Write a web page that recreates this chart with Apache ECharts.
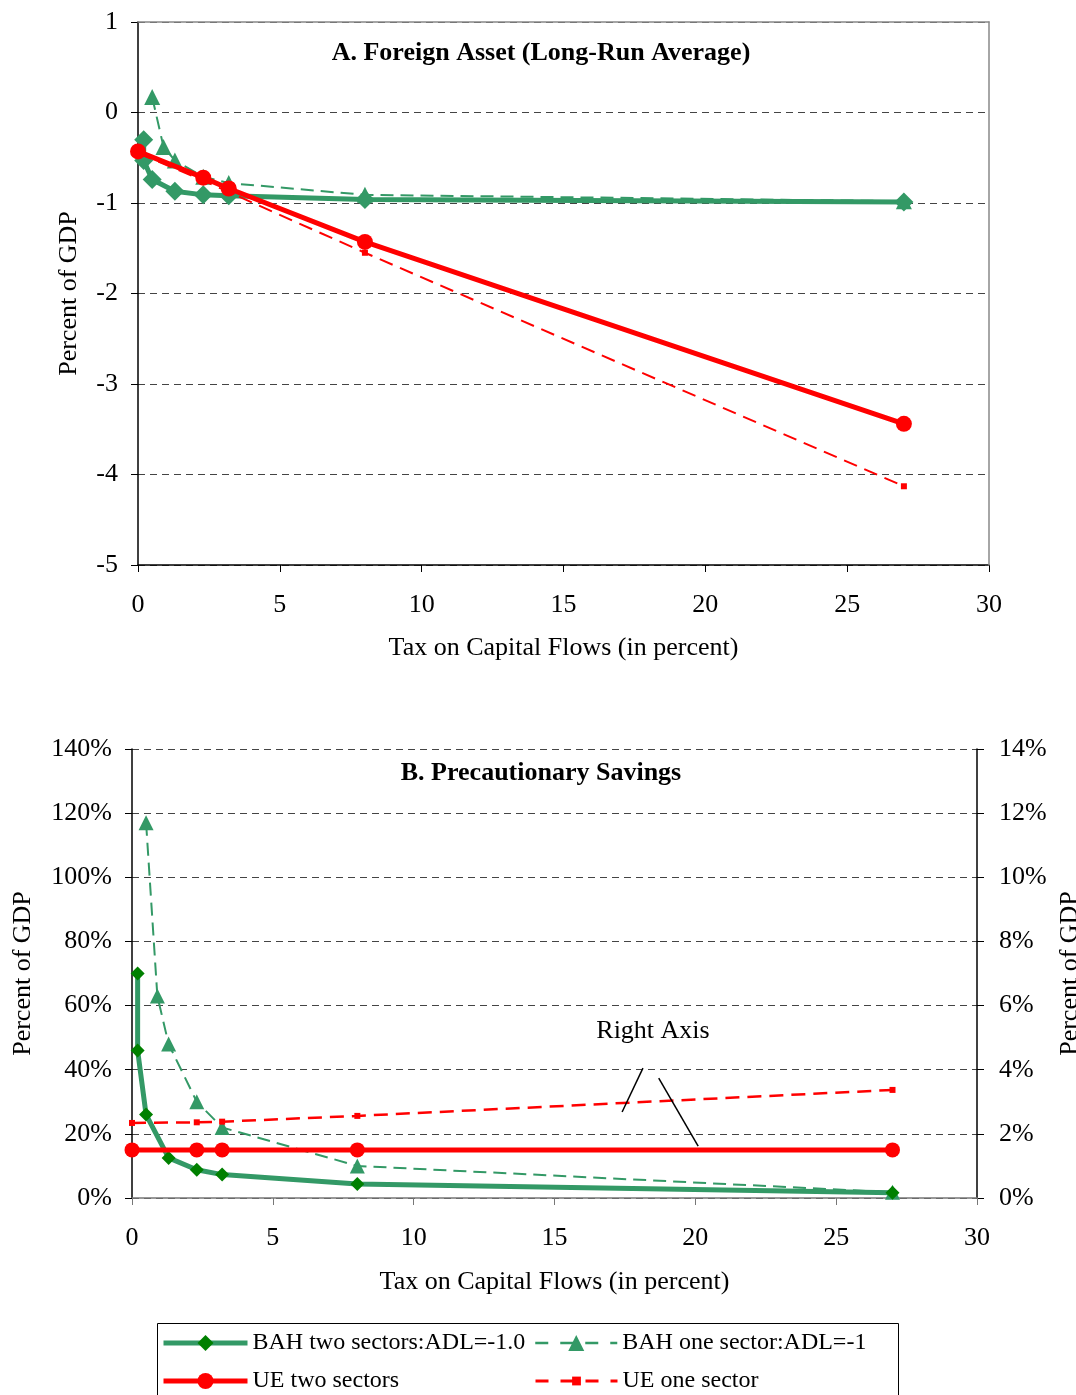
<!DOCTYPE html>
<html>
<head>
<meta charset="utf-8">
<script src="https://cdn.jsdelivr.net/npm/echarts@6/dist/echarts.min.js"></script>
<style>
  html, body { margin: 0; padding: 0; background: #fff; }
  #chart { width: 1076px; height: 1395px; }
</style>
</head>
<body>
<div id="chart"></div>
<script>
// Tax on capital flows (percent) at which each model was solved
const taxBahTwo = [0.2, 0.2, 0.5, 1.3, 2.3, 3.2, 8, 27];
const taxBahOne = [0.5, 0.9, 1.3, 2.3, 3.2, 8, 27];
const taxUE = [0, 2.3, 3.2, 8, 27];

// Panel A: foreign asset, long-run average (percent of GDP)
const faBahTwo = [-0.30, -0.53, -0.74, -0.87, -0.91, -0.92, -0.96, -0.99];
const faBahOne = [0.17, -0.38, -0.53, -0.71, -0.78, -0.91, -0.98];
const faUeTwo = [-0.43, -0.72, -0.84, -1.43, -3.44];
const faUeOne = [-0.45, -0.75, -0.88, -1.55, -4.13];

// Panel B: precautionary savings (percent of GDP); UE series read on the right axis
const psBahTwo = [70, 46, 26, 12.5, 8.8, 7.3, 4.4, 1.6];
const psBahOne = [117, 63, 48, 30, 22, 10, 1.8];
const psUeTwo = [1.5, 1.5, 1.5, 1.5, 1.5];
const psUeOne = [2.34, 2.36, 2.38, 2.56, 3.37];

const xTicks = [0, 30, 5];
const seriesNames = ['BAH two sectors:ADL=-1.0', 'BAH one sector:ADL=-1', 'UE two sectors', 'UE one sector'];

const pair = (xs, ys) => xs.map((x, i) => [x, ys[i]]);

const SEA = '#339966';
const DARKGREEN = '#008000';
const RED = '#ff0000';
const FONT = '"Liberation Serif", "Times New Roman", serif';

const chart = echarts.init(document.getElementById('chart'), null, { renderer: 'canvas' });

const gridLine = { show: true, lineStyle: { color: '#444', type: [7, 5], width: 1 } };
const labelStyle = { color: '#000', fontSize: 26, fontFamily: FONT };
const nameStyle = { color: '#000', fontSize: 26, fontFamily: FONT };

function xAxisFor(gridIndex, lineColor, gap) {
  return {
    type: 'value', gridIndex, min: xTicks[0], max: xTicks[1], interval: xTicks[2],
    name: 'Tax on Capital Flows (in percent)', nameLocation: 'middle', nameGap: gap,
    nameTextStyle: nameStyle,
    axisLine: { show: true, onZero: false, lineStyle: { color: lineColor, width: 1.5 } },
    axisTick: { show: true, length: 7, lineStyle: { color: lineColor } },
    axisLabel: Object.assign({ margin: 27 }, labelStyle),
    splitLine: { show: false }
  };
}

function legendFor(name, left, top, width, height, line, symbolColor) {
  return {
    data: [name], left, top, itemWidth: width, itemHeight: height,
    lineStyle: line, itemStyle: { color: symbolColor },
    textStyle: { fontSize: 24, color: '#000', fontFamily: FONT }
  };
}

const option = {
  animation: false,
  textStyle: { fontFamily: FONT },
  grid: [
    { left: 138, top: 22, width: 851, height: 543, outerBoundsMode: 'none', containLabel: false },
    { left: 132, top: 749, width: 845, height: 449, outerBoundsMode: 'none', containLabel: false }
  ],
  xAxis: [
    xAxisFor(0, '#000', 70),
    xAxisFor(1, '#777', 71),
    // thin frame along the top of panel A
    { type: 'value', gridIndex: 0, position: 'top', min: 0, max: 30, z: 5,
      axisLine: { show: true, onZero: false, lineStyle: { color: '#888', width: 1.5 } },
      axisTick: { show: false }, axisLabel: { show: false }, splitLine: { show: false } }
  ],
  yAxis: [
    { type: 'value', gridIndex: 0, min: -5, max: 1, interval: 1,
      name: 'Percent of GDP', nameLocation: 'middle', nameGap: 56, nameTextStyle: nameStyle,
      axisLine: { show: true, onZero: false, lineStyle: { color: '#000', width: 1.5 } },
      axisTick: { show: true, length: 7, lineStyle: { color: '#000' } },
      axisLabel: Object.assign({ margin: 20 }, labelStyle),
      splitLine: gridLine },
    { type: 'value', gridIndex: 1, min: 0, max: 140, interval: 20, position: 'left',
      name: 'Percent of GDP', nameLocation: 'middle', nameGap: 96, nameTextStyle: nameStyle,
      axisLine: { show: true, onZero: false, lineStyle: { color: '#000', width: 1.5 } },
      axisTick: { show: true, length: 7, lineStyle: { color: '#000' } },
      axisLabel: Object.assign({ margin: 20, formatter: '{value}%' }, labelStyle),
      splitLine: gridLine },
    { type: 'value', gridIndex: 1, min: 0, max: 14, interval: 2, position: 'right',
      name: 'Percent of GDP', nameLocation: 'middle', nameGap: 74, nameTextStyle: nameStyle,
      axisLine: { show: true, onZero: false, lineStyle: { color: '#000', width: 1.5 } },
      axisTick: { show: true, length: 7, lineStyle: { color: '#000' } },
      axisLabel: Object.assign({ margin: 22, formatter: '{value}%' }, labelStyle),
      splitLine: { show: false } },
    // thin frame along the right of panel A
    { type: 'value', gridIndex: 0, position: 'right', min: -5, max: 1, z: 5,
      axisLine: { show: true, onZero: false, lineStyle: { color: '#888', width: 1.5 } },
      axisTick: { show: false }, axisLabel: { show: false }, splitLine: { show: false } }
  ],
  legend: [
    legendFor(seriesNames[0], 156, 1326, 84, 20, { color: SEA, width: 5 }, DARKGREEN),
    legendFor(seriesNames[2], 156, 1364, 84, 20, { color: RED, width: 5 }, RED),
    legendFor(seriesNames[1], 529, 1326, 82, 20, { color: SEA, width: 2.5, type: [13, 12] }, SEA),
    legendFor(seriesNames[3], 529, 1364, 82, 11, { color: RED, width: 3, type: [13, 12] }, RED)
  ],
  graphic: [
    { type: 'text', x: 541, y: 53, style: { text: 'A. Foreign Asset (Long-Run Average)',
      font: 'bold 26px ' + FONT, fill: '#000', textAlign: 'center', textVerticalAlign: 'middle' } },
    { type: 'text', x: 541, y: 773, style: { text: 'B. Precautionary Savings',
      font: 'bold 26px ' + FONT, fill: '#000', textAlign: 'center', textVerticalAlign: 'middle' } },
    { type: 'text', x: 653, y: 1031, style: { text: 'Right Axis',
      font: '26px ' + FONT, fill: '#000', textAlign: 'center', textVerticalAlign: 'middle' } },
    { type: 'rect', shape: { x: 157.5, y: 1323.5, width: 741, height: 90 },
      style: { fill: 'none', stroke: '#000', lineWidth: 1 }, silent: true }
  ],
  series: [
    // Panel A
    { name: seriesNames[1], type: 'line', xAxisIndex: 0, yAxisIndex: 0, data: pair(taxBahOne, faBahOne),
      symbol: 'triangle', symbolSize: 16, itemStyle: { color: SEA },
      lineStyle: { color: SEA, width: 2, type: [13, 7] }, z: 2 },
    { name: seriesNames[0], type: 'line', xAxisIndex: 0, yAxisIndex: 0, data: pair(taxBahTwo, faBahTwo),
      symbol: 'diamond', symbolSize: 19, itemStyle: { color: SEA },
      lineStyle: { color: SEA, width: 5 }, z: 3 },
    { name: seriesNames[3], type: 'line', xAxisIndex: 0, yAxisIndex: 0, data: pair(taxUE, faUeOne),
      symbol: 'rect', symbolSize: 6, itemStyle: { color: RED },
      lineStyle: { color: RED, width: 2, type: [14, 8] }, z: 4 },
    { name: seriesNames[2], type: 'line', xAxisIndex: 0, yAxisIndex: 0, data: pair(taxUE, faUeTwo),
      symbol: 'circle', symbolSize: 16, itemStyle: { color: RED },
      lineStyle: { color: RED, width: 5 }, z: 5 },
    // Panel B
    { name: seriesNames[1], type: 'line', xAxisIndex: 1, yAxisIndex: 1, data: pair(taxBahOne, psBahOne),
      symbol: 'triangle', symbolSize: 15, itemStyle: { color: SEA },
      lineStyle: { color: SEA, width: 2, type: [13, 7] }, z: 2 },
    { name: seriesNames[0], type: 'line', xAxisIndex: 1, yAxisIndex: 1, data: pair(taxBahTwo, psBahTwo),
      symbol: 'diamond', symbolSize: 14, itemStyle: { color: DARKGREEN },
      lineStyle: { color: SEA, width: 5 }, z: 3 },
    { name: seriesNames[3], type: 'line', xAxisIndex: 1, yAxisIndex: 2, data: pair(taxUE, psUeOne),
      symbol: 'rect', symbolSize: 6, itemStyle: { color: RED },
      lineStyle: { color: RED, width: 2.5, type: [14, 8] }, z: 4,
      markLine: {
        silent: true, symbol: 'none', label: { show: false },
        lineStyle: { color: '#000', width: 1.5, type: 'solid' },
        data: [
          [{ coord: [18.14, 4.05] }, { coord: [17.4, 2.68] }],
          [{ coord: [18.7, 3.74] }, { coord: [20.1, 1.62] }]
        ]
      } },
    { name: seriesNames[2], type: 'line', xAxisIndex: 1, yAxisIndex: 2, data: pair(taxUE, psUeTwo),
      symbol: 'circle', symbolSize: 15, itemStyle: { color: RED },
      lineStyle: { color: RED, width: 5 }, z: 5 }
  ]
};

chart.setOption(option);
</script>
</body>
</html>
